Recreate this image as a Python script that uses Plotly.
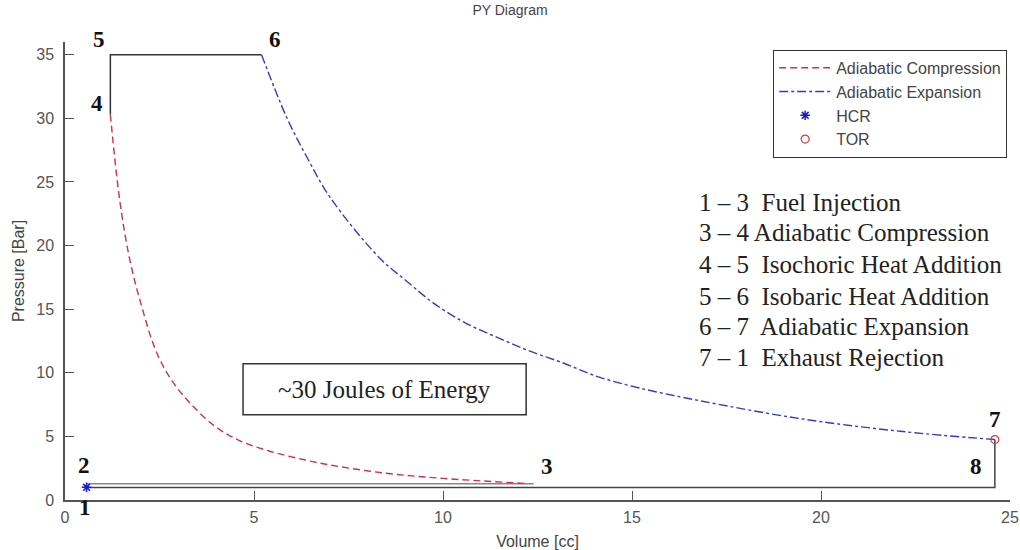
import plotly.graph_objects as go

# ---- data ----
comp_v = [1.2, 1.45, 1.72, 2.03, 2.43, 2.87, 3.39, 4.01, 4.63, 5.42, 6.30, 7.01, 8.5, 10.0, 12.2]
comp_p = [30.3, 23.5, 18.8, 15.2, 11.55, 9.2, 7.36, 5.7, 4.65, 3.83, 3.18, 2.75, 2.1, 1.7, 1.3]

exp_v = [5.2, 5.86, 6.39, 7.01, 8.33, 9.04, 9.74, 10.54, 11.42, 12.3, 13.18, 14.07, 15.2,
         16.8, 19.44, 22.1, 24.6]
exp_p = [35.0, 30.1, 27.0, 23.8, 19.0, 17.2, 15.5, 14.0, 12.8, 11.7, 10.77, 9.72, 8.8,
         7.8, 6.4, 5.4, 4.75]

heat_v = [1.2, 1.2, 5.2]          # 4 -> 5 -> 6
heat_p = [30.3, 35.0, 35.0]

intake_v = [0.57, 12.4]           # 2 -> 3
intake_p = [1.28, 1.28]

exhaust_v = [0.57, 24.6, 24.6]    # 1 -> 8 -> 7
exhaust_p = [0.98, 0.98, 4.75]

hcr_v = [0.57]
hcr_p = [1.0]
tor_v = [24.6]
tor_p = [4.75]

x_ticks = [0, 5, 10, 15, 20, 25]
y_ticks = [0, 5, 10, 15, 20, 25, 30, 35]

point_labels = ["1", "2", "3", "4", "5", "6", "7", "8"]
process_lines = [
    "1 – 3\u00a0 Fuel Injection",
    "3 – 4 Adiabatic Compression",
    "4 – 5\u00a0 Isochoric Heat Addition",
    "5 – 6\u00a0 Isobaric Heat Addition",
    "6 – 7\u00a0 Adiabatic Expansion",
    "7 – 1\u00a0 Exhaust Rejection",
]
energy_text = "~30 Joules of Energy"

SANS = "Liberation Sans, Arial, sans-serif"
SERIF = "Liberation Serif, Times New Roman, serif"
AX = "#555555"
Y_MAX = 36.0

fig = go.Figure()

# black cycle lines
fig.add_trace(go.Scatter(x=heat_v, y=heat_p, mode="lines",
                         line=dict(color="#333333", width=1.5), showlegend=False, hoverinfo="skip"))
fig.add_trace(go.Scatter(x=exhaust_v, y=exhaust_p, mode="lines",
                         line=dict(color="#444444", width=1.5), showlegend=False, hoverinfo="skip"))
fig.add_trace(go.Scatter(x=intake_v, y=intake_p, mode="lines",
                         line=dict(color="#888888", width=1.5), showlegend=False, hoverinfo="skip"))

fig.add_trace(go.Scatter(x=comp_v, y=comp_p, mode="lines", name="Adiabatic Compression",
                         line=dict(color="#d0304a", width=1.4, dash="7px,4px", shape="spline")))
fig.add_trace(go.Scatter(x=exp_v, y=exp_p, mode="lines", name="Adiabatic Expansion",
                         line=dict(color="#3a3ac0", width=1.4, dash="dashdot", shape="spline")))
fig.add_trace(go.Scatter(x=hcr_v, y=hcr_p, mode="markers", name="HCR",
                         marker=dict(symbol="asterisk-open", size=8, color="#1a1ad0",
                                     line=dict(color="#1a1ad0", width=1.5)), cliponaxis=False))
fig.add_trace(go.Scatter(x=tor_v, y=tor_p, mode="markers", name="TOR",
                         marker=dict(symbol="circle-open", size=8, color="#d04040",
                                     line=dict(color="#d04040", width=1.2)), cliponaxis=False))

annotations = []
label_pos = [(0.53, -0.6), (0.5, 2.75), (12.75, 2.65), (0.85, 31.2),
             (0.9, 36.2), (5.55, 36.2), (24.6, 6.3), (24.1, 2.65)]
for txt, (lx, ly) in zip(point_labels, label_pos):
    annotations.append(dict(x=lx, y=ly / Y_MAX, xref="x", yref="paper",
                            text=f"<b>{txt}</b>", showarrow=False,
                            font=dict(family=SERIF, size=23, color="#111111"),
                            xanchor="center", yanchor="middle"))

line_y = [23.35, 21.0, 18.5, 15.97, 13.6, 11.17]
for txt, ly in zip(process_lines, line_y):
    annotations.append(dict(x=16.72, y=ly, text=txt, showarrow=False,
                            font=dict(family=SERIF, size=25, color="#222222"),
                            xanchor="left", yanchor="middle"))

annotations.append(dict(x=8.45, y=8.67, text=energy_text, showarrow=False,
                        font=dict(family=SERIF, size=25, color="#222222"),
                        xanchor="center", yanchor="middle"))

fig.update_layout(
    width=1020, height=550,
    margin=dict(l=65, r=10, t=42, b=50, autoexpand=False),
    paper_bgcolor="white", plot_bgcolor="white",
    title=dict(text="PY Diagram", x=0.5, xanchor="center", y=0.991, yanchor="top",
               font=dict(family=SANS, size=14, color="#444444"), automargin=False),
    showlegend=True,
    legend=dict(x=0.997, xanchor="right", y=0.983, yanchor="top",
                bgcolor="white", bordercolor="#333333", borderwidth=1,
                font=dict(family=SANS, size=16, color="#444444"),
                itemwidth=52, tracegroupgap=0),
    annotations=annotations,
    shapes=[dict(type="rect", xref="x", yref="y", x0=4.71, x1=12.2, y0=6.71, y1=10.71,
                 line=dict(color="#333333", width=1.5), fillcolor="rgba(0,0,0,0)")],
    xaxis=dict(range=[0, 25], tickvals=x_ticks, ticks="inside", ticklen=9, tickcolor=AX,
               showline=True, linecolor=AX, linewidth=1.5, showgrid=False, zeroline=False,
               automargin=False, ticklabelstandoff=2,
               tickfont=dict(family=SANS, size=16, color="#555555"),
               title=dict(text="Volume [cc]", standoff=16,
                          font=dict(family=SANS, size=16, color="#444444"))),
    yaxis=dict(range=[0, Y_MAX], tickvals=y_ticks, ticks="inside", ticklen=9, tickcolor=AX,
               showline=True, linecolor=AX, linewidth=1.5, showgrid=False, zeroline=False,
               automargin=False, ticklabelstandoff=6,
               tickfont=dict(family=SANS, size=16, color="#555555"),
               title=dict(text="Pressure [Bar]", standoff=8,
                          font=dict(family=SANS, size=16, color="#444444"))),
)

fig.write_html("out.html",
               config={"displayModeBar": False},
               post_script="document.body.style.margin='0';document.body.style.overflow='hidden';")
